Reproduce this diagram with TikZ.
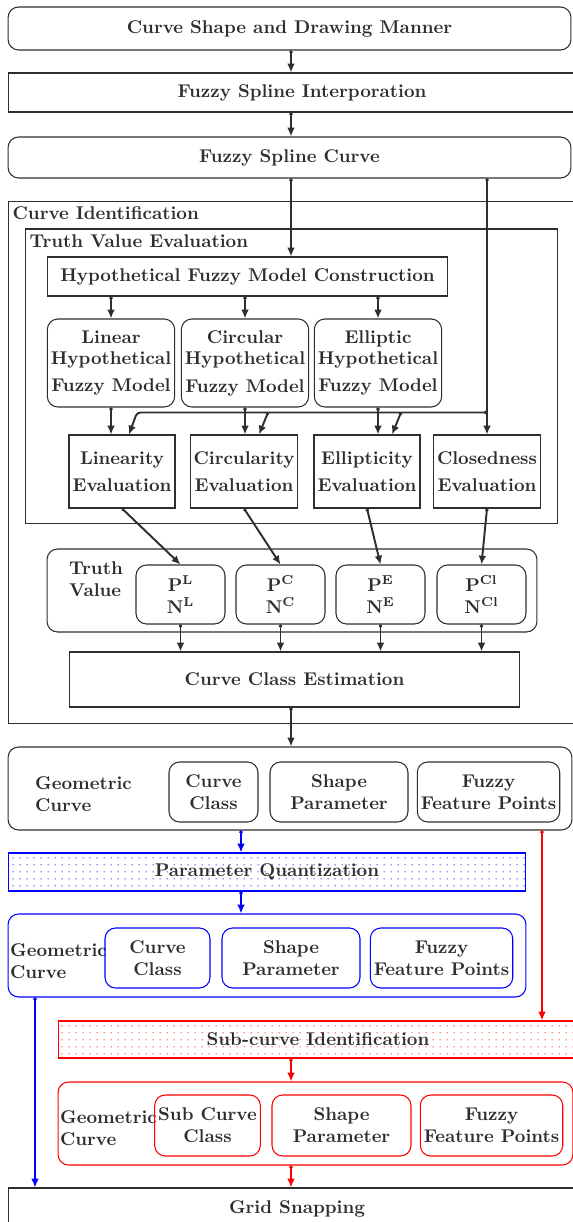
\documentclass[tikz,border=0pt]{standalone}
\usepackage{tikz}
\usetikzlibrary{arrows.meta,positioning,calc,patterns.meta}
\definecolor{ink}{HTML}{2E2E2E}
\definecolor{qblue}{HTML}{0000FF}
\definecolor{sred}{HTML}{FF0000}
\tikzset{
  box/.style={draw=ink,line width=0.6pt,text=ink,
              font=\fontsize{10.5}{12.4}\selectfont\bfseries,
              align=center,inner sep=2pt},
  roundbox/.style={box,rounded corners=6pt},
  frame/.style={draw=ink,line width=0.6pt},
  tag/.style={font=\fontsize{10.5}{12.4}\selectfont\bfseries,text=ink,
              align=left,inner sep=1pt},
  flow/.style={{Circle[length=1.8pt]}-{Latex[length=5pt,width=4.4pt]},
               line width=1.1pt,ink},
  dotfill/.style={pattern={Dots[radius=0.4pt,distance=4pt]},pattern color=#1},
}

\begin{document}
\begin{tikzpicture}[x=0.02cm,y=-0.02cm]
  \useasboundingbox (0,0) rectangle (572,1222);
  \coordinate (col) at (291,0);
  \coordinate (bcol) at (241,0);
  \coordinate (bleft) at (35,0);
  \coordinate (rcol) at (542,0);

  % input chain
  \node[roundbox,minimum width=11.26cm,minimum height=0.86cm] (shape)
    at (289.5,28.5) {Curve Shape and Drawing Manner};
  \node[box,minimum width=11.76cm,minimum height=0.78cm] (interp)
    at (302,92.5) {Fuzzy Spline Interporation};
  \node[roundbox,minimum width=11.26cm,minimum height=0.82cm] (spline)
    at (289.5,157.5) {Fuzzy Spline Curve};
  \draw[flow] (shape.south -| col) -- (interp.north -| col);
  \draw[flow] (interp.south -| col) -- (spline.north -| col);

  % curve identification
  \node[frame,minimum width=11.84cm,minimum height=10.46cm] (ident)
    at (304,462.5) {};
  \node[tag,anchor=north west] (identlbl) at ($(ident.north west)+(3,4)$)
    {Curve Identification};
  \node[frame,minimum width=10.66cm,minimum height=5.9cm] (tve)
    at (291.5,376.5) {};
  \node[tag,anchor=north west] (tvelbl) at ($(tve.north west)+(3,4)$)
    {Truth Value Evaluation};
  \node[box,minimum width=8.02cm,minimum height=0.78cm] (hfmc)
    at (247.5,276.5) {Hypothetical Fuzzy Model Construction};
  \draw[flow] (spline.south -| col) -- (hfmc.north -| col);

  \foreach \n/\x/\t in {lin/111/Linear,cir/245/Circular,ell/378/Elliptic}{
    \node[roundbox,minimum width=2.54cm,minimum height=1.76cm] (\n)
      at (\x,363) {\t\\Hypothetical\\[3pt]Fuzzy Model};
    \draw[flow] (hfmc.south -| \n) -- (\n.north);
  }
  \foreach \n/\x/\t in {evlin/122/Linearity,evcir/244/Circularity,
                        evell/367/Ellipticity,evclo/487/Closedness}{
    \node[box,minimum width=2.12cm,minimum height=1.46cm] (\n)
      at (\x,471.5) {\t\\[3pt]Evaluation};
  }
  \coordinate (bus) at (spline.south -| evclo.north);
  \coordinate (busR) at ($(evclo.north)+(0,-22)$);
  \draw[flow] (bus) -- (evclo.north);
  \foreach \m/\e in {lin/evlin,cir/evcir,ell/evell}{
    \draw[flow] (\m.south) -- (\m.south |- \e.north);
  }
  \draw[flow,rounded corners=2pt] (busR) -- ($(lin.south |- busR)+(26,0)$)
    -- ($(lin.south |- evlin.north)+(18,0)$);
  \foreach \m/\e in {cir/evcir,ell/evell}{
    \draw[flow] ($(\m.south |- busR)+(23,0)$) -- ($(\m.south |- \e.north)+(14,0)$);
  }

  % truth values
  \node[roundbox,minimum width=9.8cm,minimum height=1.66cm] (tv)
    at (292,590.5) {};
  \node[tag] (tvlbl) at (96,579) {Truth\\Value};
  \foreach \n/\x/\s/\e in {pl/180.5/L/evlin,pc/280.5/C/evcir,
                           pe/380.5/E/evell,pcl/481.5/Cl/evclo}{
    \node[roundbox,minimum width=1.78cm,minimum height=1.18cm] (\n)
      at (\x,594.5) {P\textsuperscript{\s}\\N\textsuperscript{\s}};
    \draw[flow] (\e.south) -- (\n.north);
  }
  \node[box,minimum width=9.02cm,minimum height=1.1cm] (cce)
    at (294.5,679.5) {Curve Class Estimation};
  \foreach \n in {pl,pc,pe,pcl}{
    \draw[flow] (\n.south) -- (\n.south |- cce.north);
  }

  % geometric curve
  \node[roundbox,minimum width=11.28cm,minimum height=1.66cm] (geo)
    at (290,788.5) {};
  \node[tag,anchor=west] (geolbl) at (33,794) {Geometric\\Curve};
  \node[roundbox,minimum width=1.78cm,minimum height=1.2cm] (cc)
    at (213.5,792) {Curve\\Class};
  \node[roundbox,minimum width=2.76cm,minimum height=1.2cm] (sp)
    at (339,792) {Shape\\Parameter};
  \node[roundbox,minimum width=2.74cm,minimum height=1.2cm] (fp)
    at (488.5,792) {Fuzzy\\Feature Points};
  \draw[flow] (cce.south -| col) -- (geo.north -| col);

  % quantization branch
  \node[box,draw=qblue,dotfill=qblue,minimum width=10.36cm,
        minimum height=0.76cm] (quant) at (267,872) {Parameter Quantization};
  \node[roundbox,draw=qblue,minimum width=10.36cm,minimum height=1.66cm] (bgeo)
    at (267,955.5) {};
  \node[tag,anchor=west] (bgeolbl) at (8,961) {Geometric\\Curve};
  \node[roundbox,draw=qblue,minimum width=2.1cm,minimum height=1.2cm] (bcc)
    at (157.5,958) {Curve\\Class};
  \node[roundbox,draw=qblue,minimum width=2.76cm,minimum height=1.2cm] (bsp)
    at (291,958) {Shape\\Parameter};
  \node[roundbox,draw=qblue,minimum width=2.78cm,minimum height=1.2cm] (bfp)
    at (441.5,958) {Fuzzy\\Feature Points};
  \draw[flow,qblue] (geo.south -| bcol) -- (quant.north -| bcol);
  \draw[flow,qblue] (quant.south -| bcol) -- (bgeo.north -| bcol);

  % sub-curve branch
  \node[box,draw=sred,dotfill=sred,minimum width=10.4cm,
        minimum height=0.74cm] (subid) at (318,1039.5) {Sub-curve Identification};
  \node[roundbox,draw=sred,minimum width=10.3cm,minimum height=1.66cm] (rgeo)
    at (315.5,1123.5) {};
  \node[tag,anchor=west] (rgeolbl) at (58,1128) {Geometric\\Curve};
  \node[roundbox,draw=sred,minimum width=2.1cm,minimum height=1.22cm] (rcc)
    at (207.5,1125.5) {Sub Curve\\Class};
  \node[roundbox,draw=sred,minimum width=2.78cm,minimum height=1.22cm] (rsp)
    at (341.5,1125.5) {Shape\\Parameter};
  \node[roundbox,draw=sred,minimum width=2.78cm,minimum height=1.22cm] (rfp)
    at (491.5,1125.5) {Fuzzy\\Feature Points};
  \draw[flow,sred] (geo.south -| rcol) -- (subid.north -| rcol);
  \draw[flow,sred] (subid.south -| col) -- (rgeo.north -| col);

  % output
  \node[box,minimum width=11.56cm,minimum height=0.84cm] (grid)
    at (297,1209) {Grid Snapping};
  \draw[flow,sred] (rgeo.south -| col) -- (grid.north -| col);
  \draw[flow,qblue] (bgeo.south -| bleft) -- (grid.north -| bleft);
\end{tikzpicture}
\end{document}
